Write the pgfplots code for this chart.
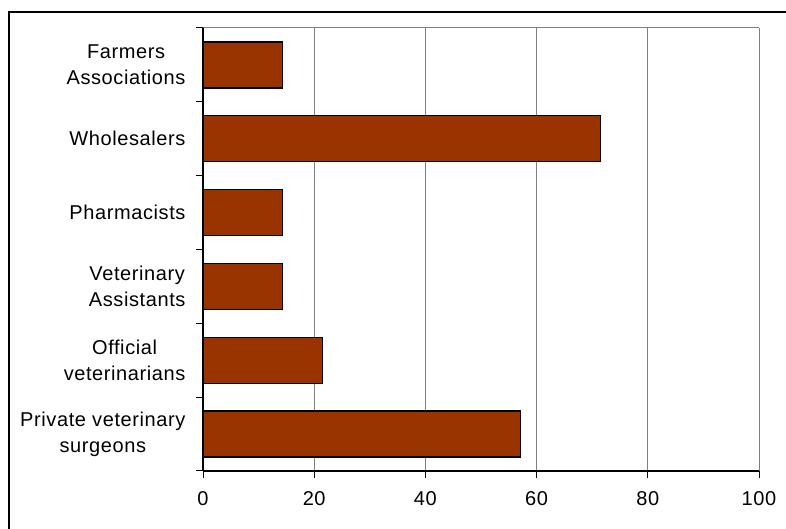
\documentclass[border=0pt]{standalone}
\usepackage{pgfplots}
\pgfplotsset{compat=1.18}
\usepackage{fontspec}
\setmainfont{Liberation Sans}[LetterSpace=3]
\definecolor{barbrown}{HTML}{993300}
\begin{document}
\begin{tikzpicture}
\path[use as bounding box] (0,0) rectangle (786pt,529pt);
\draw[line width=1.2pt] (9pt,0pt) -- (9pt,517pt) -- (786pt,517pt);
\begin{axis}[
  at={(203pt,58pt)}, anchor=south west,
  scale only axis, width=556pt, height=443pt,
  xbar, bar width=46pt,
  xmin=0, xmax=100, ymin=-0.5, ymax=5.5,
  xtick={0,20,...,100},
  ytick={-0.5,0.5,...,5.5},
  yticklabels={},
  extra y ticks={0,1,2,3,4,5},
  extra y tick labels={{Private veterinary\\surgeons},{Official\\veterinarians},{Veterinary\\Assistants},{Pharmacists},{Wholesalers},{Farmers\\Associations}},
  extra y tick style={major tick length=0pt, grid=none},
  axis x line*=bottom, axis y line*=left,
  axis line style={black, line width=1.2pt},
  tick align=outside,
  major tick length=7pt,
  tick style={black, line width=1pt},
  xmajorgrids,
  grid style={gray, line width=1pt},
  /pgf/number format/assume math mode=true,
  ticklabel style={font=\fontsize{20}{26}\selectfont},
  yticklabel style={align=center, anchor=east, xshift=-14pt},
  xticklabel style={yshift=-10pt},
  clip=false,
]
\addplot[fill=barbrown, draw=black, line width=1.2pt] coordinates {
  (57.14,0) (21.43,1) (14.29,2) (14.29,3) (71.43,4) (14.29,5)
};
\draw[gray, line width=1pt] (axis cs:0,5.5) -- (axis cs:100,5.5);
\end{axis}
\end{tikzpicture}
\end{document}
